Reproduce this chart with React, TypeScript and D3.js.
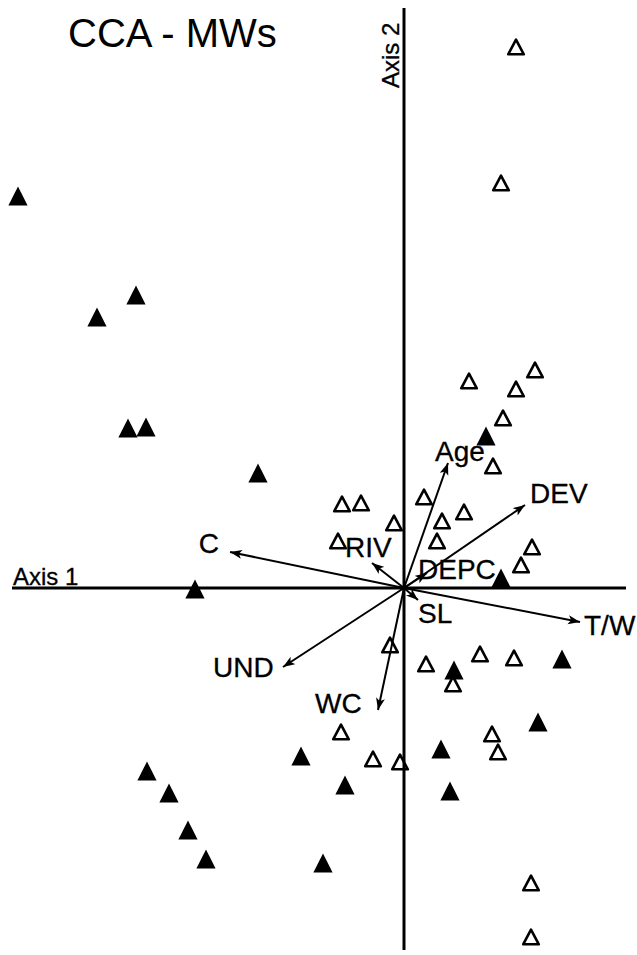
import React from 'react';
import * as d3 from 'd3';

// site scores (axis 1, axis 2)
const filledSites: [number, number][] = [
  [-3.86, 3.92], [-2.68, 2.93], [-3.07, 2.71], [-2.76, 1.60], [-2.58, 1.61],
  [-1.46, 1.15], [-2.09, -0.01], [0.82, 1.52], [0.97, 0.10], [0.50, -0.82],
  [1.58, -0.71], [1.34, -1.34], [0.37, -1.61], [0.46, -2.03], [-1.03, -1.68],
  [-0.59, -1.97], [-2.57, -1.83], [-2.35, -2.05], [-2.16, -2.42], [-1.98, -2.71],
  [-0.81, -2.75]
];

const openSites: [number, number][] = [
  [1.12, 5.41], [0.97, 4.05], [0.65, 2.07], [1.31, 2.18], [1.12, 1.99],
  [0.99, 1.70], [0.89, 1.22], [0.20, 0.91], [0.38, 0.67], [0.60, 0.76],
  [0.33, 0.47], [1.28, 0.41], [1.17, 0.23], [-0.62, 0.84], [-0.43, 0.85],
  [-0.10, 0.65], [-0.66, 0.47], [-0.14, -0.57], [0.22, -0.76], [0.49, -0.96],
  [0.76, -0.66], [1.10, -0.70], [0.88, -1.46], [0.94, -1.64], [-0.04, -1.74],
  [-0.31, -1.71], [-0.63, -1.44], [1.27, -2.95], [1.27, -3.49]
];

// environmental variable biplot arrows
const envNames = ['Age', 'DEV', 'DEPC', 'SL', 'T/W', 'C', 'RIV', 'UND', 'WC'];
const envX = [0.44, 1.21, 0.23, 0.14, 1.76, -1.74, -0.32, -1.21, -0.26];
const envY = [1.25, 0.83, 0.15, -0.12, -0.34, 0.36, 0.25, -0.79, -1.22];

const W = 637, H = 955;

// where each label sits relative to the arrow tip
const labelOffset: Record<string, [number, number, string]> = {
  Age: [-13, -2, 'start'],
  DEV: [5, -2, 'start'],
  DEPC: [-9, 6, 'start'],
  SL: [0, 23, 'start'],
  'T/W': [4, 13, 'start'],
  C: [-11, 1, 'end'],
  RIV: [-27, -6, 'start'],
  UND: [-70, 10, 'start'],
  WC: [-63, 3, 'start']
};

const App = () => {
  const x = d3.scaleLinear().domain([-3.92, 2.22]).range([12, 626]);
  const y = d3.scaleLinear().domain([-3.62, 5.8]).range([950, 8]);

  const font = 'Liberation Sans, Arial, sans-serif';

  const filledTri = 'M0,-9.5L9.6,9.5L-9.6,9.5Z';
  const openTri = 'M0,-7.4L7.8,7.3L-7.8,7.3Z';

  return (
    <svg width={W} height={H} style={{ position: 'absolute', left: 0, top: 0, background: '#fff' }}>
      <defs>
        <marker id="arr" markerUnits="userSpaceOnUse" markerWidth={14} markerHeight={10}
          refX={12} refY={4.5} orient="auto">
          <path d="M0,0 L12,4.5 L0,9 L3,4.5 Z" fill="#000" />
        </marker>
      </defs>

      <text x={68} y={47} fontFamily={font} fontSize={40} fill="#000">CCA - MWs</text>

      {/* axes through the origin */}
      <line x1={x(-3.92)} x2={x(2.22)} y1={y(0)} y2={y(0)} stroke="#000" strokeWidth={3} />
      <line x1={x(0)} x2={x(0)} y1={y(5.8)} y2={y(-3.62)} stroke="#000" strokeWidth={3} />
      <text x={13} y={585} fontFamily={font} fontSize={24} fill="#000" stroke="#000" strokeWidth={0.3}>Axis 1</text>
      <text transform={`translate(${x(0) - 5},88) rotate(-90)`} fontFamily={font} fontSize={24}
        fill="#000" stroke="#000" strokeWidth={0.3}>Axis 2</text>

      {filledSites.map((d, i) => (
        <path key={'f' + i} d={filledTri} transform={`translate(${x(d[0])},${y(d[1])})`} fill="#000" />
      ))}
      {openSites.map((d, i) => (
        <path key={'o' + i} d={openTri} transform={`translate(${x(d[0])},${y(d[1])})`}
          fill="none" stroke="#000" strokeWidth={2.6} strokeLinejoin="round" />
      ))}

      {envNames.map((n, i) => {
        const [dx, dy, anchor] = labelOffset[n];
        return (
          <g key={n}>
            <line x1={x(0)} y1={y(0)} x2={x(envX[i])} y2={y(envY[i])} stroke="#000" strokeWidth={2} markerEnd="url(#arr)" />
            <text x={x(envX[i]) + dx} y={y(envY[i]) + dy} textAnchor={anchor}
              fontFamily={font} fontSize={28} fill="#000" stroke="#000" strokeWidth={0.3}>{n}</text>
          </g>
        );
      })}
    </svg>
  );
};

export default App;
